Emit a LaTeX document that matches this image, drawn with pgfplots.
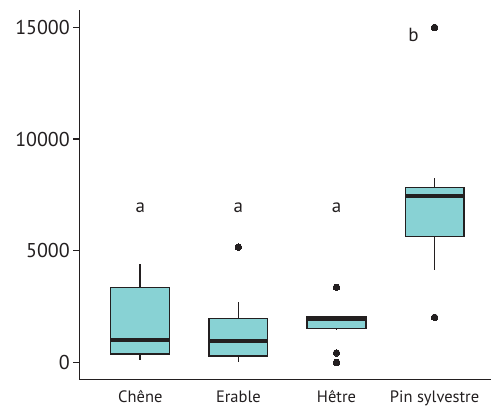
\documentclass[border=0pt]{standalone}
\usepackage{fontspec}
\setmainfont{PT Sans}
\usepackage{pgfplots}
\pgfplotsset{compat=1.18}
\usepgfplotslibrary{statistics}
\definecolor{boxfill}{RGB}{136,210,212}
\definecolor{ink}{RGB}{35,31,32}
\begin{document}
\begin{tikzpicture}
\begin{axis}[
  at={(0,0)}, anchor=south west,
  scale only axis, width=411.7pt, height=369.3pt,
  xmin=0.378, xmax=4.575, ymin=-760, ymax=15780,
  axis x line*=bottom, axis y line*=left,
  axis line style={line width=1.3pt, ink},
  xtick={1,2,3,4},
  xticklabels={Chêne,Erable,Hêtre,Pin sylvestre},
  x tick style={draw=none},
  ytick={0,5000,10000,15000},
  scaled y ticks=false,
  y tick style={line width=1.2pt, ink},
  tick align=outside, major tick length=6pt,
  /pgf/number format/1000 sep={},
  /pgf/number format/assume math mode=true,
  yticklabel style={font=\fontsize{20}{22}\selectfont, text=ink},
  xticklabel style={font=\fontsize{16.5}{20}\selectfont, text=ink, yshift=-2pt},
  boxplot/draw direction=y,
  boxplot/every median/.style={line width=4pt, ink},
  boxplot/every box/.style={line width=1.2pt, draw=ink, fill=boxfill},
  boxplot/draw/lower whisker/.code={\draw[line width=1.8pt, ink] (boxplot box cs:\pgfplotsboxplotvalue{lower quartile},0.5) -- (boxplot box cs:\pgfplotsboxplotvalue{lower whisker},0.5);},
  boxplot/draw/upper whisker/.code={\draw[line width=1.8pt, ink] (boxplot box cs:\pgfplotsboxplotvalue{upper quartile},0.5) -- (boxplot box cs:\pgfplotsboxplotvalue{upper whisker},0.5);},
]
\addplot[boxplot prepared={draw position=1, lower whisker=100, lower quartile=370, median=1000, upper quartile=3340, upper whisker=4400, box extend=0.6}, mark=*, mark size=3.3pt, mark options={fill=ink, draw=ink, line width=0pt}, ink] coordinates {};
\addplot[boxplot prepared={draw position=2, lower whisker=10, lower quartile=280, median=970, upper quartile=1950, upper whisker=2710, box extend=0.6}, mark=*, mark size=3.3pt, mark options={fill=ink, draw=ink, line width=0pt}, ink] coordinates {(0,5160)};
\addplot[boxplot prepared={draw position=3, lower whisker=1450, lower quartile=1520, median=1940, upper quartile=2040, upper whisker=2080, box extend=0.6}, mark=*, mark size=3.3pt, mark options={fill=ink, draw=ink, line width=0pt}, ink] coordinates {(0,3360) (0,420) (0,0)};
\addplot[boxplot prepared={draw position=4, lower whisker=4130, lower quartile=5620, median=7460, upper quartile=7840, upper whisker=8270, box extend=0.6}, mark=*, mark size=3.3pt, mark options={fill=ink, draw=ink, line width=0pt}, ink] coordinates {(0,15000) (0,2015)};
\node[anchor=base, font=\fontsize{19}{22}\selectfont, text=ink] at (axis cs:1,6720) {a};
\node[anchor=base, font=\fontsize{19}{22}\selectfont, text=ink] at (axis cs:2,6720) {a};
\node[anchor=base, font=\fontsize{19}{22}\selectfont, text=ink] at (axis cs:3,6720) {a};
\node[anchor=base, font=\fontsize{19}{22}\selectfont, text=ink] at (axis cs:3.785,14360) {b};
\end{axis}
\pgfresetboundingbox
\path (-79.3pt,-30.7pt) rectangle (411.7pt,379.3pt);
\end{tikzpicture}
\end{document}
